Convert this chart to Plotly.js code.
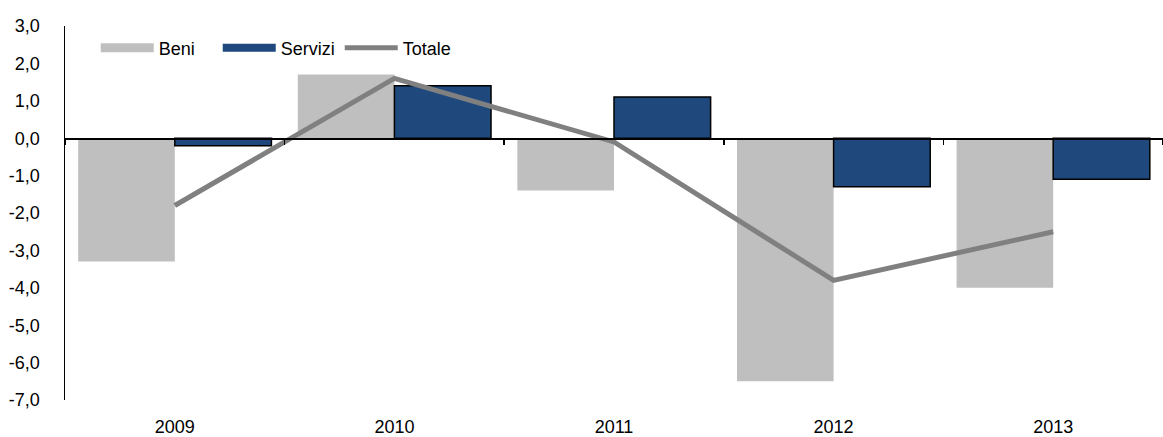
<!DOCTYPE html>
<html><head><meta charset="utf-8">
<script src="https://cdn.plot.ly/plotly-3.0.1.min.js"></script>
<style>html,body{margin:0;padding:0;background:#fff}</style>
</head><body>
<div id="chart" style="width:1163px;height:437px"></div>
<script>
const years = ['2009','2010','2011','2012','2013'];
const beni = [-3.3, 1.7, -1.4, -6.5, -4.0];
const servizi = [-0.2, 1.4, 1.1, -1.3, -1.1];
const totale = [-1.8, 1.6, -0.1, -3.8, -2.5];
const yTickVals = [3, 2, 1, 0, -1, -2, -3, -4, -5, -6, -7];
const yTickText = ['3,0','2,0','1,0','0,0','-1,0','-2,0','-3,0','-4,0','-5,0','-6,0','-7,0'];

const font = {family: 'Liberation Sans, Arial, sans-serif', size: 18, color: '#000'};
const GRAY = '#BFBFBF', BLUE = '#1F497D', LINE = '#808080';

const traces = [
  {type:'bar', name:'Beni', x:years, y:beni, showlegend:false, marker:{color:GRAY, line:{width:0}}},
  {type:'bar', name:'Servizi', x:years, y:servizi, showlegend:false, marker:{color:BLUE, line:{color:'#000', width:1.5}}},
  {type:'scatter', mode:'lines', name:'Totale', x:years, y:totale, xaxis:'x2', showlegend:false, line:{color:LINE, width:5}},
  // legend entries (no data points)
  {type:'scatter', mode:'lines', name:'Beni', x:[null], y:[null], xaxis:'x2', line:{color:GRAY, width:9}},
  {type:'scatter', mode:'lines', name:'Servizi', x:[null], y:[null], xaxis:'x2', line:{color:BLUE, width:8}},
  {type:'scatter', mode:'lines', name:'Totale', x:[null], y:[null], xaxis:'x2', line:{color:LINE, width:5}}
];

const layout = {
  width:1163, height:437,
  margin:{l:65, r:0, t:26, b:37},
  paper_bgcolor:'#fff', plot_bgcolor:'#fff',
  font: font,
  barmode:'group', bargap:0.12, bargroupgap:0,
  showlegend:true,
  legend:{orientation:'h', x:0.028, y:0.941, xanchor:'left', yanchor:'middle', font:font, bgcolor:'rgba(0,0,0,0)', traceorder:'normal', itemwidth:53, entrywidth:54, entrywidthmode:'pixels'},
  xaxis:{type:'category', categoryarray:years, range:[-0.5,4.5], showline:false, ticks:'', showgrid:false, zeroline:false, tickfont:font, ticklabelstandoff:14},
  xaxis2:{type:'category', matches:'x', overlaying:'x', anchor:'free', position:0.7, showline:true, linecolor:'#000', linewidth:1.5, ticks:'outside', tickson:'boundaries', ticklen:5, tickcolor:'#000', tickwidth:1.5, showticklabels:false, showgrid:false, zeroline:false},
  yaxis:{range:[-7,3], tickmode:'array', tickvals:yTickVals, ticktext:yTickText, showline:true, linecolor:'#000', linewidth:1.5, ticks:'', showgrid:false, zeroline:false, tickfont:font, ticklabelstandoff:20}
};

Plotly.newPlot('chart', traces, layout, {displayModeBar:false, staticPlot:true});
</script>
</body></html>
